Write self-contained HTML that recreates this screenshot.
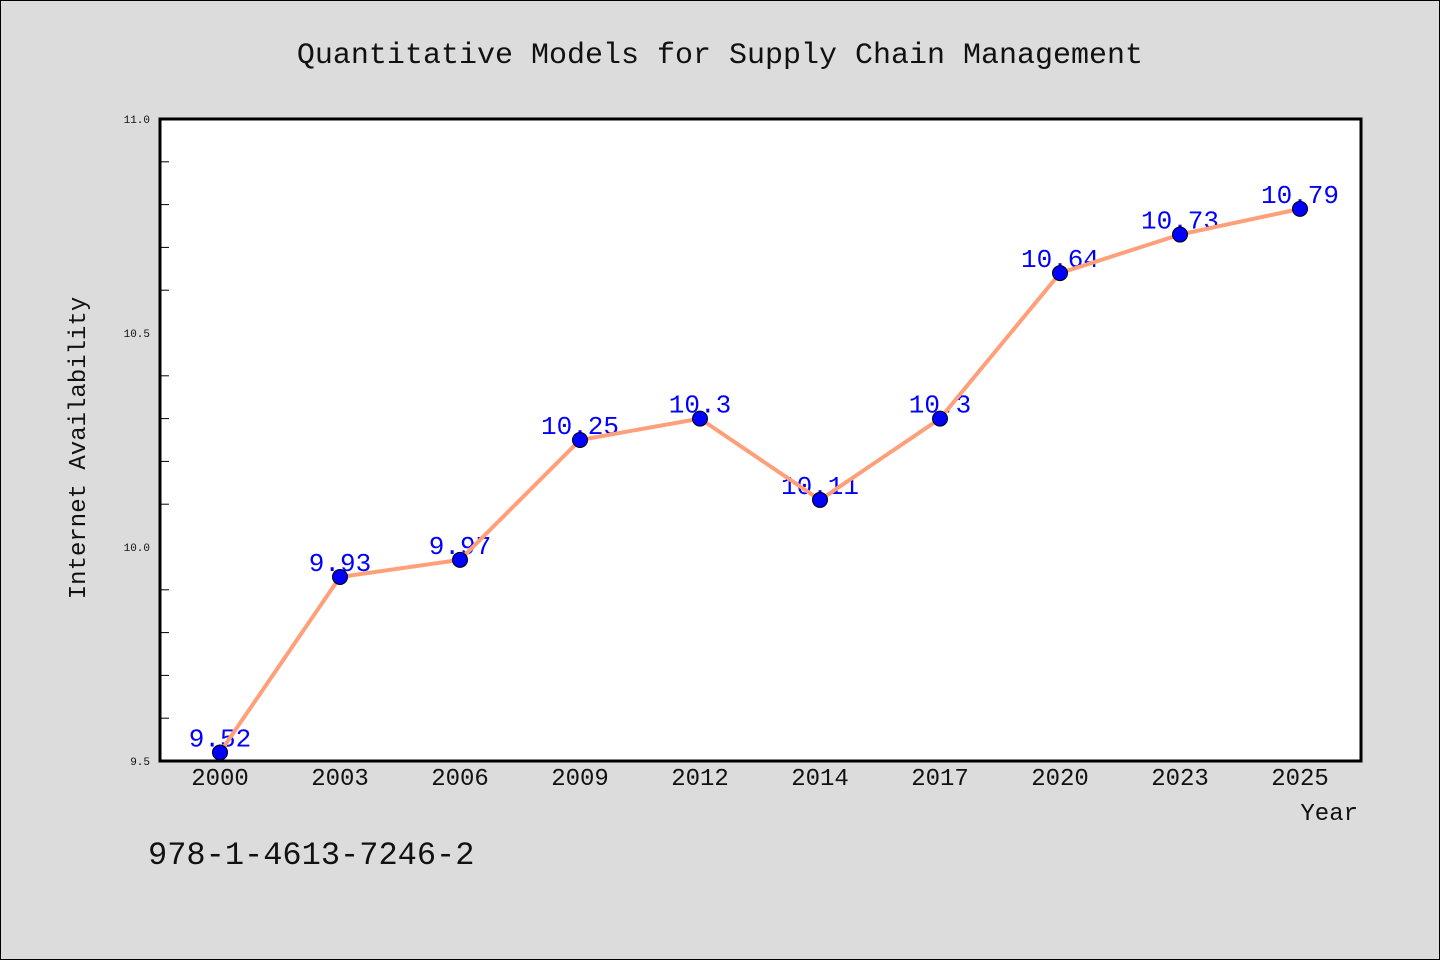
<!DOCTYPE html>
<html><head><meta charset="utf-8"><style>
body{margin:0;background:#dcdcdc;}
svg{display:block;font-family:"WenQuanYi Zen Hei Mono","WenQuanYi Zen Hei","Liberation Mono",monospace;}
</style></head><body>
<svg id="c" width="1440" height="960">
<rect x="0.5" y="0.5" width="1439" height="959" fill="#dcdcdc" stroke="#000"/>
<text x="720" y="63" text-anchor="middle" font-size="30" fill="#111">Quantitative Models for Supply Chain Management</text>
<rect x="160" y="119" width="1201" height="642" fill="#fff" stroke="#000" stroke-width="3"/>
<text transform="translate(85,448) rotate(-90)" text-anchor="middle" font-size="24" fill="#111">Internet Availability</text>
<text x="1358" y="820" text-anchor="end" font-size="24" fill="#111">Year</text>
<text x="148" y="864" font-size="32" fill="#111">978-1-4613-7246-2</text>
<g id="g"></g>
</svg>
<script>
const categories=["2000","2003","2006","2009","2012","2014","2017","2020","2023","2025"];
const values=[9.52,9.93,9.97,10.25,10.3,10.11,10.3,10.64,10.73,10.79];
const labels=["9.52","9.93","9.97","10.25","10.3","10.11","10.3","10.64","10.73","10.79"];
const yTicks=[9.5,10.0,10.5,11.0];
const yTickLabels=["9.5","10.0","10.5","11.0"];
const NS="http://www.w3.org/2000/svg";
const g=document.getElementById('g');
const x=i=>220+i*120;
const y=v=>761-(v-9.5)/1.5*642;
function mk(t,a,p){const e=document.createElementNS(NS,t);for(const k in a)e.setAttribute(k,a[k]);(p||g).appendChild(e);return e;}
for(let k=1;k<15;k++){if(k%5===0)continue;const yy=y(9.5+k*0.1);
const t=mk('line',{x1:161,x2:169,y1:yy,y2:yy,stroke:'#000','stroke-width':1});

}
yTicks.forEach((v,i)=>{const t=mk('text',{x:150,y:y(v)+4,'text-anchor':'end','font-size':11,fill:'#111'});t.textContent=yTickLabels[i];

});
categories.forEach((c,i)=>{const t=mk('text',{x:x(i),y:785,'text-anchor':'middle','font-size':24,fill:'#111'});t.textContent=c;

});
values.forEach((v,i)=>{const t=mk('text',{x:x(i),y:y(v)-6,'text-anchor':'middle','font-size':26,fill:'#0000ff'});t.textContent=labels[i];

});
const pl=mk('polyline',{points:values.map((v,i)=>x(i)+','+y(v)).join(' '),fill:'none',stroke:'#ffa07a','stroke-width':4});


values.forEach((v,i)=>{const c=mk('circle',{cx:x(i),cy:y(v),r:7.5,fill:'#0000ff',stroke:'#000','stroke-width':1});

});
</script>
</body></html>
